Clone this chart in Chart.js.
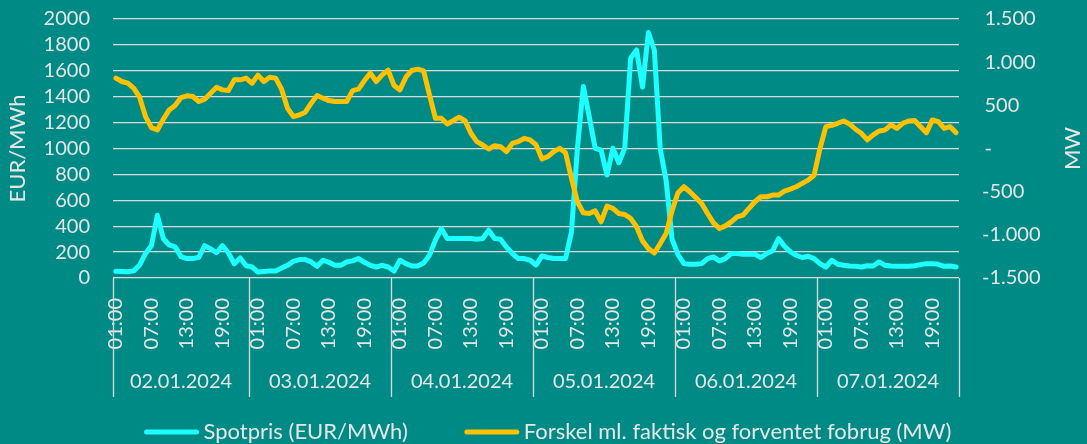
<!DOCTYPE html>
<html>
<head>
<meta charset="utf-8">
<script src="https://cdn.jsdelivr.net/npm/chart.js@4.4.1/dist/chart.umd.min.js"></script>
<style>
  html, body { margin: 0; padding: 0; background: #008A85; }
  #wrap { width: 1087px; height: 444px; }
</style>
</head>
<body>
<div id="wrap"><canvas id="chart"></canvas></div>
<script>
// Datoer (grupper på x-aksen)
const days = ['02.01.2024', '03.01.2024', '04.01.2024', '05.01.2024', '06.01.2024', '07.01.2024'];

// Timer pr. dag - første dag starter kl. 01:00
const hours = ['00:00', '01:00', '02:00', '03:00', '04:00', '05:00', '06:00', '07:00',
               '08:00', '09:00', '10:00', '11:00', '12:00', '13:00', '14:00', '15:00',
               '16:00', '17:00', '18:00', '19:00', '20:00', '21:00', '22:00', '23:00'];
const hoursFirstDay = hours.slice(1);

// Aksemærker
const leftTicks = [0, 200, 400, 600, 800, 1000, 1200, 1400, 1600, 1800, 2000];
const rightTicks = [-1500, -1000, -500, 0, 500, 1000, 1500];

// Spotpris (EUR/MWh)
const spotpris = [
  52, 50, 48, 55, 100, 190, 250, 485, 305, 255, 240, 165, 150, 150, 160, 250, 225, 195, 250, 195, 110, 155, 95,
  85, 46, 50, 55, 55, 77, 98, 129, 142, 142, 124, 90, 137, 121, 98, 98, 124, 132, 150, 121, 98, 85, 98, 85,
  54, 137, 111, 93, 93, 116, 176, 292, 382, 305, 305, 305, 305, 305, 300, 305, 369, 305, 300, 240, 189, 150, 150, 137,
  100, 170, 158, 150, 150, 150, 356, 1000, 1478, 1246, 1002, 988, 795, 1002, 890, 1002, 1698, 1761, 1474, 1896, 1761, 1000, 750, 300,
  180, 111, 106, 106, 111, 150, 163, 132, 150, 189, 189, 184, 184, 184, 158, 189, 210, 305, 245, 202, 176, 158, 168, 150,
  111, 85, 137, 106, 98, 93, 90, 85, 95, 93, 124, 98, 93, 90, 90, 90, 95, 103, 111, 111, 106, 90, 93, 85
];

// Forskel ml. faktisk og forventet forbrug (MW)
const forskel = [
  815, 776, 757, 699, 594, 369, 241, 215, 339, 447, 497, 590, 610, 602, 544, 571, 641, 710, 679, 671, 795, 795, 815,
  755, 850, 776, 826, 815, 687, 466, 369, 389, 420, 525, 613, 583, 555, 544, 544, 544, 671, 687, 787, 873, 776, 853, 908,
  730, 679, 826, 904, 919, 900, 621, 350, 350, 284, 323, 362, 323, 176, 79, 41, -6, 33, 21, -37, 60, 79, 118, 99,
  45, -120, -95, -37, 2, -49, -346, -617, -745, -753, -722, -850, -668, -694, -753, -764, -810, -907, -1070, -1159, -1210, -1101, -985, -720,
  -513, -443, -501, -567, -637, -753, -861, -927, -896, -850, -791, -772, -694, -617, -559, -559, -540, -540, -493, -470, -443, -404, -366, -310,
  0, 253, 269, 292, 319, 284, 223, 176, 99, 157, 203, 215, 273, 234, 292, 319, 323, 253, 184, 331, 311, 234, 253, 184
];

// Byg kategorier og dag-starter
const labels = [];
const dayStarts = [];
days.forEach((d, i) => {
  dayStarts.push(labels.length);
  (i === 0 ? hoursFirstDay : hours).forEach(h => labels.push(h));
});

const FONT = 'Lato, "Open Sans", sans-serif';
const TXT = '#E6E6E6';
const GRID = '#D9D9D9';
const CYAN = '#1EFFFF';
const GOLD = '#FFC000';

// Formatering af MW-aksen som i Excel: 1.500 / - / -500
function fmtMW(v) {
  if (v === 0) return '\u2009-';
  const s = Math.abs(v).toString().replace(/\B(?=(\d{3})+(?!\d))/g, '.');
  return v < 0 ? '-' + s : '\u2009' + s;
}

// Dato-grupper, skillelinjer, MW-titel og forklaring
const groupPlugin = {
  id: 'groupAxis',
  afterDraw(chart) {
    const ctx = chart.ctx;
    const x = chart.scales.x;
    const area = chart.chartArea;
    const bounds = dayStarts.map(i => i === 0 ? area.left : (x.getPixelForValue(i - 1) + x.getPixelForValue(i)) / 2);
    bounds.push(area.right);

    ctx.save();
    ctx.strokeStyle = GRID;
    ctx.lineWidth = 1.3;
    bounds.forEach(b => {
      ctx.beginPath();
      ctx.moveTo(Math.round(b) + 0.5, area.bottom);
      ctx.lineTo(Math.round(b) + 0.5, area.bottom + 119);
      ctx.stroke();
    });

    ctx.fillStyle = TXT;
    ctx.font = '20px ' + FONT;
    ctx.textAlign = 'center';
    ctx.textBaseline = 'middle';
    days.forEach((d, i) => {
      ctx.fillText(d, (bounds[i] + bounds[i + 1]) / 2, area.bottom + 104);
    });

    // Forklaring
    ctx.font = '22px ' + FONT;
    ctx.textAlign = 'left';
    ctx.lineWidth = 5;
    ctx.lineCap = 'round';
    const ly = area.bottom + 154;
    const items = chart.data.datasets.map(ds => ({ text: ds.label, color: ds.borderColor }));
    const widths = items.map(it => 56 + 4 + ctx.measureText(it.text).width);
    const gap = 56;
    let lx = (chart.width - (widths[0] + widths[1] + gap)) / 2 + 4;
    items.forEach((it, i) => {
      ctx.strokeStyle = it.color;
      ctx.beginPath();
      ctx.moveTo(lx + 3, ly);
      ctx.lineTo(lx + 53, ly);
      ctx.stroke();
      ctx.fillText(it.text, lx + 60, ly);
      lx += widths[i] + gap;
    });

    // MW-titel, læses nedefra og op
    ctx.textAlign = 'center';
    ctx.translate(1073, (area.top + area.bottom) / 2);
    ctx.rotate(-Math.PI / 2);
    ctx.fillText('MW', 0, 0);
    ctx.restore();
  }
};

new Chart(document.getElementById('chart'), {
  type: 'line',
  data: {
    labels: labels,
    datasets: [{
      label: 'Spotpris (EUR/MWh)',
      data: spotpris,
      yAxisID: 'y',
      borderColor: CYAN,
      backgroundColor: CYAN,
      borderWidth: 5,
      pointRadius: 0,
      tension: 0,
      borderJoinStyle: 'round',
      borderCapStyle: 'round',
      order: 1
    }, {
      label: 'Forskel ml. faktisk og forventet fobrug (MW)',
      data: forskel,
      yAxisID: 'y1',
      borderColor: GOLD,
      backgroundColor: GOLD,
      borderWidth: 5,
      pointRadius: 0,
      tension: 0,
      borderJoinStyle: 'round',
      borderCapStyle: 'round',
      order: 0
    }]
  },
  options: {
    responsive: true,
    maintainAspectRatio: false,
    animation: false,
    layout: { padding: { top: 19, bottom: 0, left: 0, right: 0 } },
    plugins: {
      tooltip: { enabled: false },
      legend: { display: false }
    },
    scales: {
      x: {
        offset: true,
        grid: { display: false },
        border: { display: false },
        ticks: {
          autoSkip: false,
          minRotation: 90,
          maxRotation: 90,
          padding: 12,
          color: TXT,
          font: { family: FONT, size: 20 },
          callback: (v, i) => (i % 6 === 0 ? labels[i] : '')
        },
        afterFit(s) { s.height = 166; }
      },
      y: {
        position: 'left',
        min: 0,
        max: 2000,
        afterBuildTicks(s) { s.ticks = leftTicks.map(v => ({ value: v })); },
        ticks: { autoSkip: false, padding: 0, color: TXT, font: { family: FONT, size: 20 }, callback: v => String(v) },
        grid: { color: GRID, lineWidth: 1.3, drawTicks: true, tickLength: 23, tickColor: 'rgba(0,0,0,0)' },
        border: { display: false },
        title: {
          display: true,
          text: 'EUR/MWh',
          color: TXT,
          font: { family: FONT, size: 22 },
          padding: { top: 5, bottom: 0 }
        },
        afterFit(s) { s.width = 113; }
      },
      y1: {
        position: 'right',
        min: -1500,
        max: 1500,
        afterBuildTicks(s) { s.ticks = rightTicks.map(v => ({ value: v })); },
        ticks: { autoSkip: false, padding: 0, color: TXT, font: { family: FONT, size: 20 }, callback: v => fmtMW(v) },
        grid: { drawOnChartArea: false, drawTicks: true, tickLength: 23, tickColor: 'rgba(0,0,0,0)' },
        border: { display: false },
        afterFit(s) { s.width = 128; }
      }
    }
  },
  plugins: [groupPlugin]
});
</script>
</body>
</html>
